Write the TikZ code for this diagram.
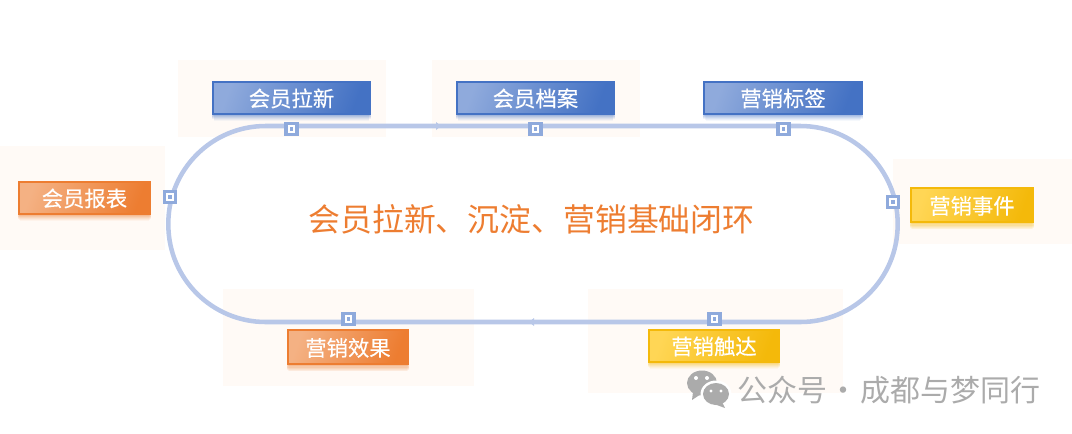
\documentclass[tikz,border=0pt]{standalone}
\usepackage{fontspec}
\setmainfont{Noto Sans CJK SC}
\newfontfamily\tagfont[FakeBold=0.4]{Noto Sans CJK SC}
\usepackage{xcolor}
\usetikzlibrary{shadows}
\definecolor{loopblue}{HTML}{B8C7E8}
\definecolor{portblue}{HTML}{8FAADC}
\definecolor{palebg}{HTML}{FFFAF6}
\definecolor{titleorange}{HTML}{ED7D31}
\definecolor{paleorange}{HTML}{F4B183}
\definecolor{tagblue}{HTML}{4472C4}
\definecolor{tagyellow}{HTML}{F4B90A}
\definecolor{paleyellow}{HTML}{FFD655}
\definecolor{wechatgray}{HTML}{ABABAB}
\newcommand{\portdot}{\textcolor{portblue}{\rule{2.4pt}{2.4pt}}}
\tikzset{
  softshadow/.style={
    drop shadow={shadow xshift=0pt,shadow yshift=-5.6pt,shadow scale=.98,opacity=.05,fill=#1},
    drop shadow={shadow xshift=0pt,shadow yshift=-4.8pt,shadow scale=.99,opacity=.07,fill=#1},
    drop shadow={shadow xshift=0pt,shadow yshift=-4pt,shadow scale=1.01,opacity=.09,fill=#1},
    drop shadow={shadow xshift=0pt,shadow yshift=-3.2pt,shadow scale=1.01,opacity=.11,fill=#1},
    drop shadow={shadow xshift=0pt,shadow yshift=-2.4pt,shadow scale=1.01,opacity=.13,fill=#1},
    drop shadow={shadow xshift=0pt,shadow yshift=-1.6pt,shadow scale=1,opacity=.16,fill=#1}},
  tagbox/.style={rectangle,inner sep=0,line width=1.5pt,text=white,text depth=0pt,font=\tagfont\fontsize{16}{18}\selectfont},
  bluetag/.style={tagbox,softshadow=tagblue,draw=tagblue,left color=portblue,right color=tagblue,shading angle=70},
  orangetag/.style={tagbox,softshadow=titleorange,draw=titleorange,left color=paleorange,right color=titleorange,shading angle=70},
  yellowtag/.style={tagbox,softshadow=tagyellow,draw=tagyellow,left color=paleyellow,right color=tagyellow,shading angle=70},
  portbox/.style={rectangle,draw=portblue,fill=white,line width=2.6pt,inner sep=0,minimum size=8.1pt},
  bgpatch/.style={fill=palebg,draw=none},
}
\begin{document}
\begin{tikzpicture}[x=0.75pt,y=-0.75pt]
\useasboundingbox (0,0) rectangle (1072,433);
% pale patches
\fill[bgpatch] (178,60) rectangle (386,137);
\fill[bgpatch] (432,60) rectangle (640,137);
\fill[bgpatch] (0,146) rectangle (165,250);
\fill[bgpatch] (893,159) rectangle (1072,244);
\fill[bgpatch] (223,289) rectangle (474,386);
\fill[bgpatch] (588,289) rectangle (843,393);
% loop and title
\node[rectangle,draw=loopblue,line width=3.4pt,rounded corners=73pt,inner sep=0,minimum width=547pt,minimum height=147pt] (loop) at (533,224) {};
\node[text=titleorange,font=\fontsize{23.9}{26}\selectfont,inner sep=0] (title) at (531.5,219) {会员拉新、沉淀、营销基础闭环};
\fill[loopblue] (436,122)--(441,126)--(436,130)--cycle;
\fill[loopblue] (534,318)--(529,322)--(534,326)--cycle;
% tags
\node[bluetag,minimum width=118pt,minimum height=24pt] (lanew) at (291.5,97.5) {会员拉新};
\node[bluetag,minimum width=118pt,minimum height=24pt] (file) at (535.5,97.5) {会员档案};
\node[bluetag,minimum width=118.5pt,minimum height=24pt] (tags) at (783,97.5) {营销标签};
\node[orangetag,minimum width=98.5pt,minimum height=24pt] (report) at (84.5,197.5) {会员报表};
\node[yellowtag,minimum width=92pt,minimum height=26pt] (event) at (972,205) {营销事件};
\node[orangetag,minimum width=90.5pt,minimum height=26pt] (effect) at (348,347) {营销效果};
\node[yellowtag,minimum width=98pt,minimum height=24pt] (reach) at (714,345.5) {营销触达};
% ports on the loop
\foreach \nm/\px/\py in {pa/291.5/129,pb/535.5/129,pc/783.5/129,pd/170/197,pe/893/202,pf/348.5/319,pg/714.5/319}
  \node[portbox] (\nm) at (\px,\py) {\portdot};
% mark and account line
\fill[wechatgray] (702,383) ellipse (15 and 12.5);
\fill[wechatgray] (693,392)--(692,400)--(701,394)--cycle;
\fill[white] (716,394) ellipse (15.5 and 13.5);
\fill[wechatgray] (716,394) ellipse (13 and 11);
\fill[wechatgray] (722,402)--(725,408)--(714,404)--cycle;
\fill[white] (696,378) circle (2) (707,378) circle (2) (711,391) circle (1.7) (721,391) circle (1.7);
\node[text=wechatgray,font=\fontsize{22.5}{24}\selectfont,inner sep=0,anchor=west] (account) at (737,390) {公众号\hspace{-4pt} · \hspace{-4pt}成都与梦同行};
\end{tikzpicture}
\end{document}
